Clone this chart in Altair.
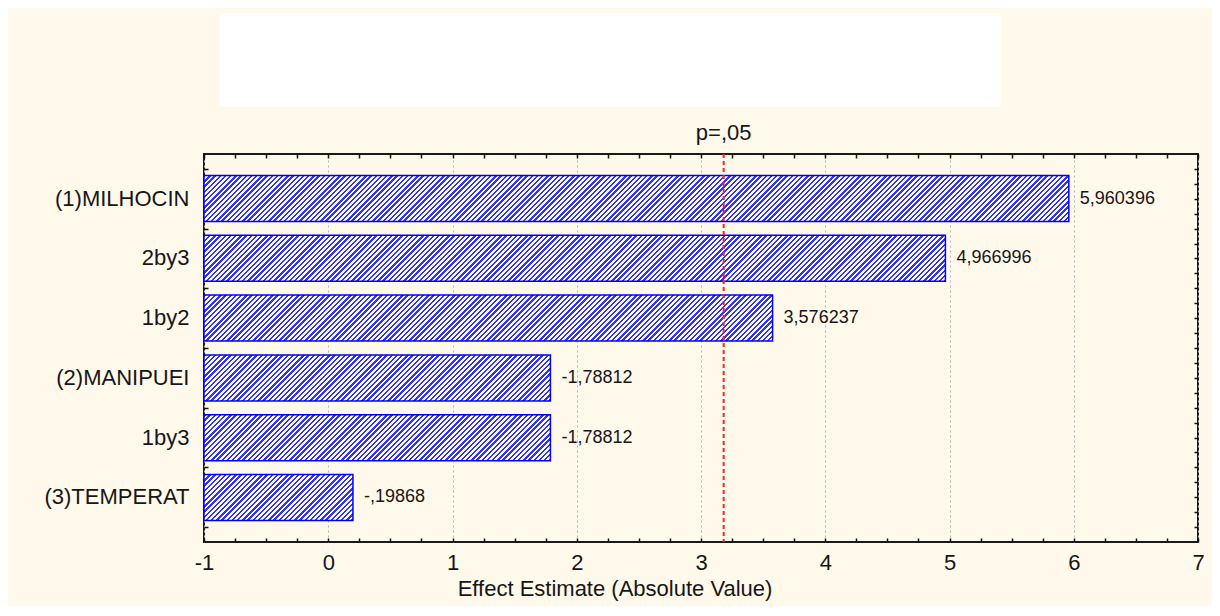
import altair as alt
import pandas as pd

# ---------------- data ----------------
terms = ["(1)MILHOCIN", "2by3", "1by2", "(2)MANIPUEI", "1by3", "(3)TEMPERAT"]
effects = [5.960396, 4.966996, 3.576237, -1.78812, -1.78812, -0.19868]
effect_text = ["5,960396", "4,966996", "3,576237", "-1,78812", "-1,78812", "-,19868"]
x_major = [-1, 0, 1, 2, 3, 4, 5, 6, 7]
x_minor = [-1 + 0.25 * i for i in range(33)]
y_minor = list(range(1, 26))
t_crit = [3.182446]
crit_text = ["p=,05"]
x_title = "Effect Estimate (Absolute Value)"

# ---------------- layout / style ----------------
PLOT_W, PLOT_H = 994, 388
X_DOMAIN = [-1, 7]
PAD_IN, PAD_OUT = 0.23, 0.36
FONT = "Liberation Sans"
TXT = "#161616"
BG = "#FFF9EC"

df = pd.DataFrame({"term": terms, "effect": effects, "label": effect_text})
crit_df = pd.DataFrame({"t": t_crit, "lab": crit_text})

n = len(terms)
step = PLOT_H / (n - PAD_IN + 2 * PAD_OUT)
band_h = step * (1 - PAD_IN)
px_per_unit = PLOT_W / (X_DOMAIN[1] - X_DOMAIN[0])


def hatch(w, h, period=5.2, frac=0.47, line="#3030ff", gap="#ffffff"):
    """Diagonal '/' hatch as a hard-stop linear gradient in bbox units."""
    total = w + h
    k = w * w + h * h
    x2 = w * total / k
    y2 = h * total / k
    nper = total / period
    stops = []
    i = 0
    while i / nper < 1:
        a = round(i / nper, 5)
        b = round(min((i + frac) / nper, 1), 5)
        c = round(min((i + 1) / nper, 1), 5)
        stops += [
            {"offset": a, "color": line},
            {"offset": b, "color": line},
            {"offset": b, "color": gap},
            {"offset": c, "color": gap},
        ]
        i += 1
    return {"gradient": "linear", "x1": 0, "y1": 0, "x2": x2, "y2": y2, "stops": stops}


x_scale = alt.Scale(domain=X_DOMAIN, nice=False, zero=False)
y_scale = alt.Scale(domain=terms, paddingInner=PAD_IN, paddingOuter=PAD_OUT)
q_scale = alt.Scale(domain=[0, 26], nice=False, zero=False)

x_axis_main = alt.Axis(
    values=x_major, labelExpr="'' + datum.value", labelFont=FONT, labelFontSize=22,
    labelColor=TXT, labelPadding=10, labelFlush=False, ticks=False, tickSize=0,
    domain=False, grid=True, gridColor="#b5b5b5", gridDash=[2, 3], gridWidth=1,
    title=x_title, titleFont=FONT, titleFontSize=22, titleFontWeight="normal",
    titleColor=TXT, titleX=410.5, titleY=46, titleAlign="center", titleBaseline="middle",
)
y_axis_main = alt.Axis(
    title=None, labelFont=FONT, labelFontSize=22, labelColor=TXT, labelPadding=15,
    labelLimit=400, ticks=False, tickSize=0, domain=False, grid=False,
)

base = alt.Chart(df).transform_calculate(absval="abs(datum.effect)")

bar_layers = []
for term, eff in zip(terms, effects):
    w = (abs(eff) - X_DOMAIN[0]) * px_per_unit
    bar_layers.append(
        base.transform_filter(alt.datum.term == term)
        .mark_bar(fill=hatch(w, band_h), stroke="#0000ff", strokeWidth=1.5)
        .encode(
            x=alt.X("absval:Q", scale=x_scale, axis=x_axis_main),
            x2=alt.X2Datum(X_DOMAIN[0]),
            y=alt.Y("term:N", scale=y_scale, axis=y_axis_main),
        )
    )

value_text = base.mark_text(
    align="left", baseline="middle", dx=11, font=FONT, fontSize=18, color=TXT
).encode(
    x=alt.X("absval:Q", scale=x_scale, axis=x_axis_main),
    y=alt.Y("term:N", scale=y_scale, axis=y_axis_main),
    text="label:N",
)

inner = alt.layer(*bar_layers, value_text)

tick_style = dict(labels=False, domain=False, grid=False, ticks=True, tickSize=4,
                  tickWidth=1.5, tickColor="#111111", title=None)

ticks_a = base.mark_point(opacity=0).encode(
    x=alt.XDatum(X_DOMAIN[0], type="quantitative", scale=x_scale,
                 axis=alt.Axis(orient="top", offset=-PLOT_H, values=x_minor, **tick_style)),
    y=alt.YDatum(0, type="quantitative", scale=q_scale,
                 axis=alt.Axis(orient="right", offset=-PLOT_W, values=y_minor, **tick_style)),
)
ticks_b = base.mark_point(opacity=0).encode(
    x=alt.XDatum(X_DOMAIN[0], type="quantitative", scale=x_scale,
                 axis=alt.Axis(orient="bottom", offset=-PLOT_H, values=x_minor, **tick_style)),
    y=alt.YDatum(0, type="quantitative", scale=q_scale,
                 axis=alt.Axis(orient="left", offset=-PLOT_W, values=y_minor, **tick_style)),
)

crit_rule = alt.Chart(crit_df).mark_rule(
    color="#ff2020", strokeDash=[4, 3], strokeWidth=2
).encode(x=alt.X("t:Q", scale=x_scale, axis=None))

crit_label = alt.Chart(crit_df).mark_text(
    align="center", baseline="middle", font=FONT, fontSize=22, color=TXT
).encode(
    x=alt.X("t:Q", scale=x_scale, axis=None),
    y=alt.value(-21),
    text="lab:N",
)

white_box = alt.Chart(crit_df).mark_rect(color="#ffffff").encode(
    x=alt.value(15.5), x2=alt.value(796.5), y=alt.value(-141), y2=alt.value(-47)
)

chart = (
    alt.layer(white_box, inner, crit_rule, crit_label, ticks_a, ticks_b)
    .resolve_scale(y="independent")
    .resolve_axis(x="independent", y="independent")
    .properties(
        width=PLOT_W,
        height=PLOT_H,
        autosize=alt.AutoSizeParams(type="none"),
        padding={"left": 196, "top": 146, "right": 14, "bottom": 64},
        background=BG,
    )
    .configure_view(stroke="#1a1a1a", strokeWidth=2)
)

chart.save("out.html", embed_options={"renderer": "svg", "actions": False})
